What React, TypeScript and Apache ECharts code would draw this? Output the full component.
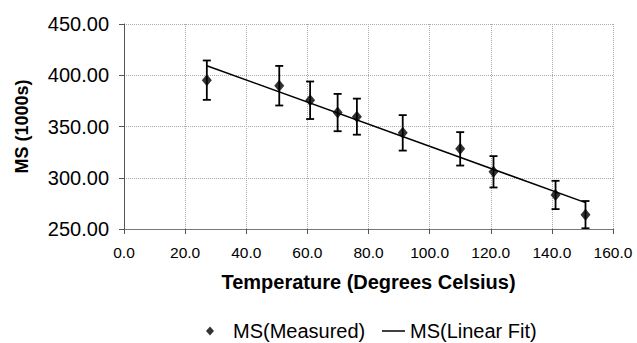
import React, { useEffect, useRef } from "react";
import * as echarts from "echarts";

const temps = [27.1, 50.8, 60.9, 69.9, 76.2, 91.2, 110.0, 120.9, 141.2, 151.0];
const msMeasured = [395.2, 389.8, 375.6, 363.6, 359.6, 343.8, 328.2, 305.8, 283.2, 264.0];
const msError = [19.2, 19.3, 18.3, 18.2, 17.6, 17.3, 16.3, 15.3, 13.8, 13.3];
const fitX = [27.1, 151.0];
const fitY = [409.3, 275.7];

const FONT = "'Liberation Sans', Arial, sans-serif";

export default function App() {
  const ref = useRef<HTMLDivElement>(null);
  useEffect(() => {
    const chart = echarts.init(ref.current!, null, { renderer: "svg" });
    const measured = temps.map((t, i) => [t, msMeasured[i]]);
    const errData = temps.map((t, i) => [t, msMeasured[i] - msError[i], msMeasured[i] + msError[i]]);
    const fit = fitX.map((x, i) => [x, fitY[i]]);
    chart.setOption({
      animation: false,
      backgroundColor: "#fff",
      textStyle: { fontFamily: FONT, color: "#000" },
      grid: { left: 124, right: 24, top: 24, bottom: 114 },
      xAxis: {
        type: "value",
        min: 0,
        max: 160,
        interval: 20,
        name: "Temperature (Degrees Celsius)",
        nameLocation: "middle",
        nameGap: 43,
        nameTextStyle: { fontFamily: FONT, fontSize: 20, fontWeight: "bold", color: "#000" },
        axisLine: { show: true, lineStyle: { color: "#777", width: 1 } },
        axisTick: { show: true, length: 5, lineStyle: { color: "#555" } },
        axisLabel: {
          fontFamily: FONT,
          fontSize: 15.5,
          color: "#000",
          margin: 15,
          formatter: (v: number) => v.toFixed(1),
        },
        splitLine: { show: true, lineStyle: { color: "#aaa", type: "dotted", width: 1 } },
      },
      yAxis: {
        type: "value",
        min: 250,
        max: 450,
        interval: 50,
        name: "MS (1000s)",
        nameLocation: "middle",
        nameGap: 93,
        nameTextStyle: { fontFamily: FONT, fontSize: 18, fontWeight: "bold", color: "#000" },
        axisLine: { show: true, lineStyle: { color: "#555", width: 1 } },
        axisTick: { show: true, length: 5, lineStyle: { color: "#555" } },
        axisLabel: {
          fontFamily: FONT,
          fontSize: 20,
          color: "#000",
          margin: 15,
          formatter: (v: number) => v.toFixed(2),
        },
        splitLine: { show: true, lineStyle: { color: "#aaa", type: "dotted", width: 1 } },
      },
      legend: [
        {
          data: [{ name: "MS(Measured)", icon: "diamond" }],
          left: 201,
          top: 316,
          itemWidth: 8,
          itemHeight: 9,
          textStyle: { fontFamily: FONT, fontSize: 20, color: "#000", padding: [0, 0, 0, 14] },
          selectedMode: false,
        },
        {
          data: [{ name: "MS(Linear Fit)", icon: "rect" }],
          left: 377,
          top: 316,
          itemWidth: 23,
          itemHeight: 1.5,
          textStyle: { fontFamily: FONT, fontSize: 20, color: "#000" },
          selectedMode: false,
        },
      ],
      series: [
        {
          type: "custom",
          name: "errors",
          data: errData,
          clip: true,
          silent: true,
          renderItem: (params: any, api: any) => {
            const x = api.value(0);
            const lo = api.coord([x, api.value(1)]);
            const hi = api.coord([x, api.value(2)]);
            const cw = 4;
            const style = { stroke: "#000", lineWidth: 1.8 };
            return {
              type: "group",
              children: [
                { type: "line", shape: { x1: lo[0], y1: lo[1], x2: hi[0], y2: hi[1] }, style },
                { type: "line", shape: { x1: hi[0] - cw, y1: hi[1], x2: hi[0] + cw, y2: hi[1] }, style },
                { type: "line", shape: { x1: lo[0] - cw, y1: lo[1], x2: lo[0] + cw, y2: lo[1] }, style },
              ],
            };
          },
          z: 2,
        },
        {
          type: "line",
          name: "MS(Linear Fit)",
          data: fit,
          showSymbol: false,
          symbol: "none",
          lineStyle: { color: "#000", width: 1.5 },
          itemStyle: { color: "#000" },
          z: 3,
        },
        {
          type: "scatter",
          name: "MS(Measured)",
          data: measured,
          symbol: "diamond",
          symbolSize: [10, 12],
          itemStyle: { color: "#000" },
          z: 4,
        },
      ],
    });
    return () => chart.dispose();
  }, []);
  return (
    <div
      ref={ref}
      style={{ position: "fixed", left: 0, top: 0, width: 637, height: 343, background: "#fff" }}
    />
  );
}
